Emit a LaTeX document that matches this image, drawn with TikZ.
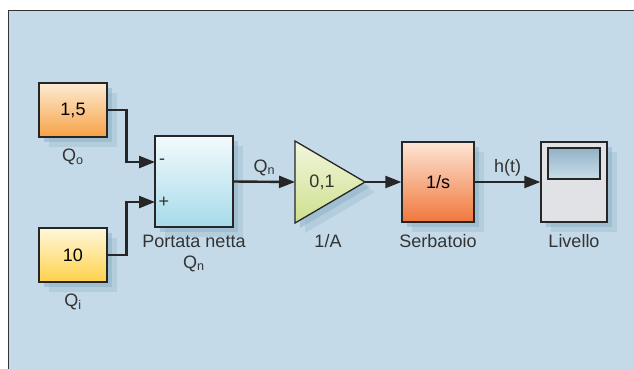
\documentclass[tikz,border=0pt]{standalone}
\usepackage{fontspec}
\setmainfont{Liberation Sans}
\usepackage{xcolor}
\usetikzlibrary{arrows.meta,positioning,shadows}
\definecolor{bgblue}{HTML}{C4DAE8}
\definecolor{shblue}{HTML}{8EB0C6}
\definecolor{qoTop}{HTML}{FDEBD3}
\definecolor{qoBot}{HTML}{F7A246}
\definecolor{qiTop}{HTML}{FFF7DC}
\definecolor{qiBot}{HTML}{FFD24A}
\definecolor{sumTop}{HTML}{F3FAFC}
\definecolor{sumBot}{HTML}{A6DBEA}
\definecolor{gainTop}{HTML}{F3F6DE}
\definecolor{gainBot}{HTML}{CDE08C}
\definecolor{tankTop}{HTML}{FDE5D5}
\definecolor{tankBot}{HTML}{F0773C}
\definecolor{scopeGray}{HTML}{E1E2E5}
\definecolor{scrTop}{HTML}{92B2C6}
\definecolor{scrBot}{HTML}{C9DEEA}
\newcommand{\sig}[2]{#1\textsubscript{#2}}

\begin{document}
\begin{tikzpicture}[x=1pt,y=-1pt,>={Triangle[length=16pt,width=12pt]},
font=\fontsize{18}{21}\selectfont,
blk/.style={draw=black!85,line width=1.3pt,inner sep=0pt,
  drop shadow={shadow xshift=10pt,shadow yshift=-10pt,fill=shblue,opacity=.3},
  drop shadow={shadow xshift=5pt,shadow yshift=-5pt,fill=shblue,opacity=.5}},
wire/.style={->,line width=2.4pt,draw=black!85},
lbl/.style={inner sep=0pt,text=black!80,align=center}]
\useasboundingbox (0,0) rectangle (634,368);
\fill[bgblue] (8,10) rectangle (640,372);
\draw[black!80,line width=1pt] (8,372) -- (8,10) -- (640,10);

% sources
\node[blk,top color=qoTop,bottom color=qoBot,minimum width=68pt,minimum height=54pt] (qo) at (73,110) {1,5};
\node[blk,top color=qiTop,bottom color=qiBot,minimum width=68pt,minimum height=54pt] (qi) at (73,255) {10};
\node[lbl,below=11pt of qo] (qolbl) {\sig{Q}{o}};
\node[lbl,below=11pt of qi] (qilbl) {\sig{Q}{i}};

% sum
\node[blk,top color=sumTop,bottom color=sumBot,minimum width=78pt,minimum height=91pt] (sum) at (194,181.5) {};
\node[lbl,below=7pt of sum] (sumlbl) {Portata netta\\\sig{Q}{n}};
\coordinate (minus) at (155,162);
\coordinate (plus) at (155,202);
\node[lbl] (mlbl) at (162,162) {-};
\node[lbl] (plbl) at (164,202) {+};

% gain 1/A
\fill[shblue,opacity=.3,shift={(10,10)}] (295,141) -- (365,182) -- (295,223) -- cycle;
\fill[shblue,opacity=.5,shift={(5,5)}] (295,141) -- (365,182) -- (295,223) -- cycle;
\shadedraw[top color=gainTop,bottom color=gainBot,draw=black!85,line width=1.3pt] (295,141) -- (365,182) -- (295,223) -- cycle;
\node[lbl] (gain) at (322,182) {0,1};
\coordinate (gin) at (295,182);
\coordinate (gout) at (365,182);
\node[lbl] (gainlbl) at (328,241) {1/A};

% integrator
\node[blk,top color=tankTop,bottom color=tankBot,minimum width=72pt,minimum height=80pt] (tank) at (438,182) {1/s};
\node[lbl,below=12pt of tank] (tanklbl) {Serbatoio};

% scope
\node[blk,fill=scopeGray,minimum width=66pt,minimum height=80pt] (scope) at (574,182) {};
\node[draw=black!85,line width=1.3pt,top color=scrTop,bottom color=scrBot,minimum width=52pt,minimum height=31pt,inner sep=0pt] (screen) at (574,163.5) {};
\node[lbl,below=12pt of scope] (scopelbl) {Livello};

% wires
\draw[wire] (qo.east) -- ++(19,0) |- (minus);
\draw[wire] (qi.east) -- ++(19,0) |- (plus);
\draw[wire] (sum.east) -- node[lbl,above=5pt] (qnlbl) {\sig{Q}{n}} (gin);
\draw[wire] (gout) -- (tank.west);
\draw[wire] (tank.east) -- node[lbl,above=5pt] (hlbl) {h(t)} (scope.west);
\end{tikzpicture}
\end{document}
